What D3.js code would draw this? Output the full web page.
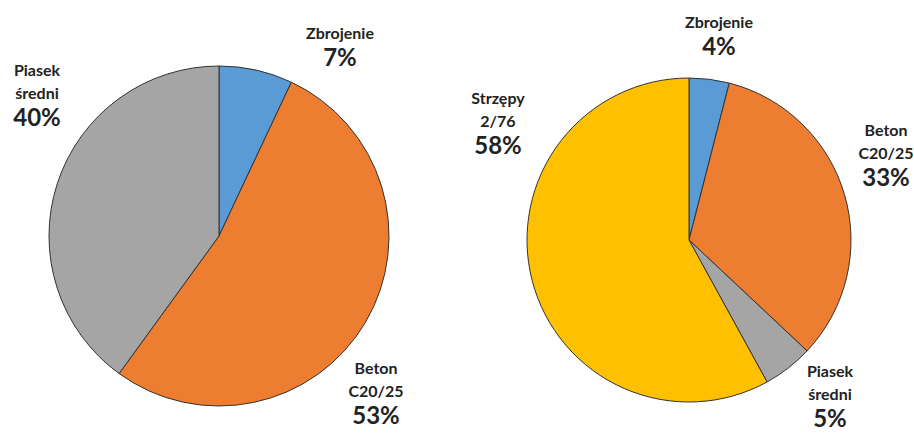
<!DOCTYPE html>
<html>
<head>
<meta charset="utf-8">
<script src="https://cdn.jsdelivr.net/npm/d3@7"></script>
<style>
  html, body { margin: 0; padding: 0; background: #fff; }
  svg { display: block; }
  text { font-family: Lato, "Open Sans", sans-serif; font-weight: bold; fill: #222; }
</style>
</head>
<body>
<svg id="chart" width="914" height="436"></svg>
<script>
// Material shares (%) for the two variants
const leftCategories = ["Zbrojenie", "Beton C20/25", "Piasek średni"];
const leftValues = [7, 53, 40];

const rightCategories = ["Zbrojenie", "Beton C20/25", "Piasek średni", "Strzępy 2/76"];
const rightValues = [4, 33, 5, 58];

// Label lines for each category (name split across lines)
const labelLines = {
  "Zbrojenie": ["Zbrojenie"],
  "Beton C20/25": ["Beton", "C20/25"],
  "Piasek średni": ["Piasek", "średni"],
  "Strzępy 2/76": ["Strzępy", "2/76"]
};

const color = d3.scaleOrdinal()
  .domain(["Zbrojenie", "Beton C20/25", "Piasek średni", "Strzępy 2/76"])
  .range(["#5b9bd5", "#ed7d31", "#a5a5a5", "#ffc000"]);

const svg = d3.select("#chart");

function drawPie(categories, values, cx, cy, r, labelPos) {
  const data = categories.map((c, i) => ({ name: c, value: values[i] }));
  const pie = d3.pie().sort(null).value(d => d.value);
  const arc = d3.arc().innerRadius(0).outerRadius(r);
  const g = svg.append("g").attr("transform", `translate(${cx},${cy})`);

  g.selectAll("path")
    .data(pie(data))
    .join("path")
    .attr("d", arc)
    .attr("fill", d => color(d.data.name))
    .attr("stroke", "#333")
    .attr("stroke-width", 1);

  data.forEach((d, i) => {
    const [lx, ly] = labelPos[i];
    const lines = labelLines[d.name];
    const t = svg.append("text")
      .attr("text-anchor", "middle")
      .attr("x", lx)
      .attr("y", ly);
    lines.forEach((ln, k) => {
      t.append("tspan")
        .attr("x", lx)
        .attr("dy", k === 0 ? 0 : 23)
        .style("font-size", "16px")
        .text(ln);
    });
    t.append("tspan")
      .attr("x", lx)
      .attr("dy", 27)
      .style("font-size", "24px")
      .text(d.value + "%");
  });
}

drawPie(leftCategories, leftValues, 219, 236, 170,
  [[340, 39], [376, 374], [37, 76]]);

drawPie(rightCategories, rightValues, 689, 240, 162,
  [[719, 28], [886, 136], [830, 377], [498, 104]]);
</script>
</body>
</html>
